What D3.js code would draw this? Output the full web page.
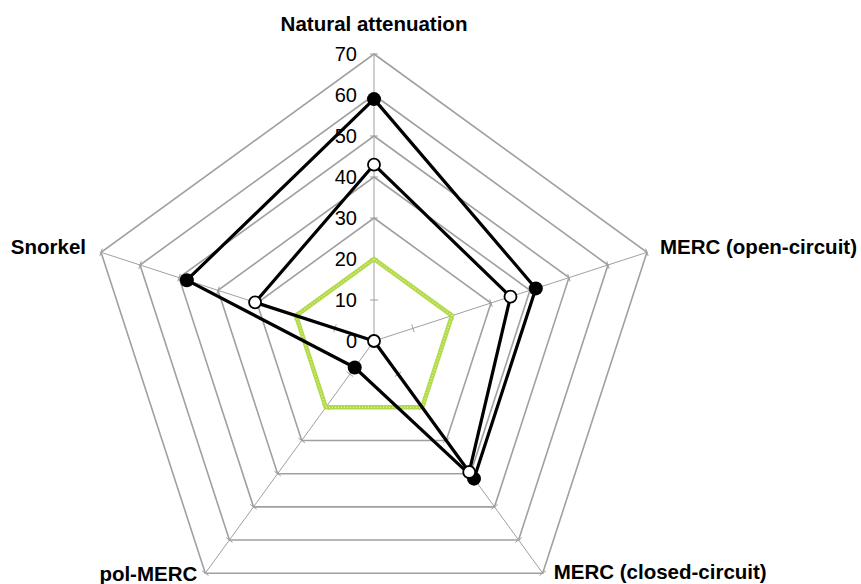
<!DOCTYPE html>
<html>
<head>
<meta charset="utf-8">
<script src="https://cdn.jsdelivr.net/npm/d3@7"></script>
<style>
  body { margin: 0; background: #fff; }
  text { font-family: Arial, "Liberation Sans", sans-serif; }
</style>
</head>
<body>
<div id="chart"></div>
<script>
// Axes and values
const categories = ["Natural attenuation", "MERC (open-circuit)", "MERC (closed-circuit)", "pol-MERC", "Snorkel"];
const filledSeries = [59, 41.5, 41.5, 8, 48];
const openSeries = [43, 35, 39.5, 0, 30.5];
const greenSeries = [20, 20, 20, 20, 20];
const tickValues = [0, 10, 20, 30, 40, 50, 60, 70];

const width = 861, height = 584;
const cx = 374, cy = 341;

const svg = d3.select("#chart").append("svg")
  .attr("width", width)
  .attr("height", height);

const g = svg.append("g").attr("transform", `translate(${cx},${cy})`);

// radial scale
const r = d3.scaleLinear().domain([0, 70]).range([0, 287]);
const angle = i => -Math.PI / 2 + i * 2 * Math.PI / categories.length;
const pt = (v, i) => [r(v) * Math.cos(angle(i)), r(v) * Math.sin(angle(i))];

// rings (the 10 ring is not drawn in the original)
tickValues.filter(t => t >= 20).forEach(t => {
  g.append("path")
    .attr("d", d3.line()(categories.map((c, i) => pt(t, i))) + "Z")
    .attr("fill", "none")
    .attr("stroke", "#a0a0a0")
    .attr("stroke-width", 1.6);
});

// spokes
categories.forEach((c, i) => {
  g.append("line")
    .attr("x1", 0).attr("y1", 0)
    .attr("x2", pt(70, i)[0]).attr("y2", pt(70, i)[1])
    .attr("stroke", "#a0a0a0")
    .attr("stroke-width", 1);
  // small tick marks on each spoke
  tickValues.slice(1).forEach(t => {
    const a = angle(i), p = pt(t, i);
    const nx = -Math.sin(a) * 4, ny = Math.cos(a) * 4;
    g.append("line")
      .attr("x1", p[0] - nx).attr("y1", p[1] - ny)
      .attr("x2", p[0] + nx).attr("y2", p[1] + ny)
      .attr("stroke", "#a0a0a0")
      .attr("stroke-width", 1);
  });
});

// value labels along the top spoke
g.selectAll(".tl")
  .data(tickValues)
  .enter()
  .append("text")
  .attr("class", "tl")
  .attr("x", -17)
  .attr("y", d => -r(d))
  .attr("dy", "0.36em")
  .attr("text-anchor", "end")
  .attr("font-size", 20)
  .attr("fill", "#000")
  .text(d => d);

const closed = vals => d3.line()(vals.map((v, i) => pt(v, i))) + "Z";

// green series (textured look)
g.append("path")
  .attr("d", closed(greenSeries))
  .attr("fill", "none")
  .attr("stroke", "#b2da48")
  .attr("stroke-width", 4.5)
  .attr("stroke-linejoin", "miter");
g.append("path")
  .attr("d", closed(greenSeries))
  .attr("fill", "none")
  .attr("stroke", "#dcefa0")
  .attr("stroke-width", 1.5)
  .attr("stroke-dasharray", "1,2");

// black filled-marker series
g.append("path")
  .attr("d", closed(filledSeries))
  .attr("fill", "none")
  .attr("stroke", "#000")
  .attr("stroke-width", 3.2)
  .attr("stroke-linejoin", "round");

// open-marker series
g.append("path")
  .attr("d", closed(openSeries))
  .attr("fill", "none")
  .attr("stroke", "#000")
  .attr("stroke-width", 3.2)
  .attr("stroke-linejoin", "round");

g.selectAll(".dotFilled")
  .data(filledSeries)
  .enter()
  .append("circle")
  .attr("class", "dotFilled")
  .attr("cx", (d, i) => pt(d, i)[0])
  .attr("cy", (d, i) => pt(d, i)[1])
  .attr("r", 7)
  .attr("fill", "#000");

g.selectAll(".dotOpen")
  .data(openSeries)
  .enter()
  .append("circle")
  .attr("class", "dotOpen")
  .attr("cx", (d, i) => pt(d, i)[0])
  .attr("cy", (d, i) => pt(d, i)[1])
  .attr("r", 6)
  .attr("fill", "#fff")
  .attr("stroke", "#000")
  .attr("stroke-width", 1.8);

// category labels
const labelPos = [
  { dx: 0, dy: -23, anchor: "middle" },
  { dx: 13, dy: 2, anchor: "start" },
  { dx: 11, dy: 6, anchor: "start" },
  { dx: -8, dy: 8, anchor: "end" },
  { dx: -15, dy: 2, anchor: "end" }
];
categories.forEach((c, i) => {
  const p = pt(70, i);
  g.append("text")
    .attr("x", p[0] + labelPos[i].dx)
    .attr("y", p[1] + labelPos[i].dy)
    .attr("text-anchor", labelPos[i].anchor)
    .attr("font-size", 20.5)
    .attr("font-weight", "bold")
    .attr("fill", "#000")
    .text(c);
});
</script>
</body>
</html>
